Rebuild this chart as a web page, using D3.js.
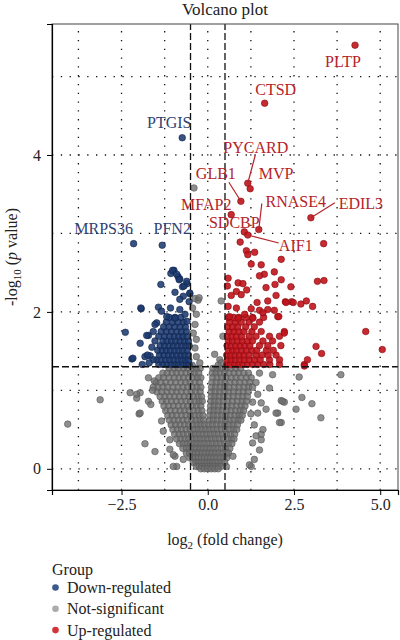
<!DOCTYPE html>
<html><head><meta charset="utf-8">
<script src="https://cdn.jsdelivr.net/npm/d3@7/dist/d3.min.js"></script>
<style>body{margin:0;background:#fff}svg{display:block}text{font-family:"Liberation Serif","DejaVu Serif",serif}</style>
</head><body><svg id="c" width="400" height="640"></svg>
<script>
// ---------------- data ----------------
const xTicks = [-2.5, 0, 2.5, 5];
const xMinor = [-3.75, -1.25, 1.25, 3.75];
const yTicks = [0, 2, 4];
const yMinor = [1, 3, 5];
const fcCut = 0.5;
const pCut = 1.301;
const groups = ["Down-regulated", "Not-significant", "Up-regulated"];

const labeledGenes = [
  {gene:"PLTP",   x:4.27,  y:5.40, g:2},
  {gene:"CTSD",   x:1.65,  y:4.66, g:2},
  {gene:"PTGIS",  x:-0.74, y:4.22, g:0},
  {gene:"PYCARD", x:1.16,  y:3.64, g:2},
  {gene:"MVP",    x:1.23,  y:3.57, g:2},
  {gene:"GLB1",   x:0.96,  y:3.41, g:2},
  {gene:"MFAP2",  x:0.68,  y:3.24, g:2},
  {gene:"RNASE4", x:1.48,  y:3.05, g:2},
  {gene:"EDIL3",  x:2.99,  y:3.20, g:2},
  {gene:"SDCBP",  x:1.06,  y:3.02, g:2},
  {gene:"AIF1",   x:1.16,  y:2.98, g:2},
  {gene:"MRPS36", x:-2.15, y:2.87, g:0},
  {gene:"PFN2",   x:-1.32, y:2.85, g:0}
];

// rows: [ -log10 p, [log2FC values...] ]
const downRows = [
  [1.33, [-1.42,-1.3,-1.18,-1.06,-0.95,-0.84,-0.73,-0.62,-0.54]],
  [1.39, [-1.48,-1.35,-1.22,-1.1,-0.98,-0.86,-0.75,-0.64,-0.55]],
  [1.45, [-1.4,-1.27,-1.14,-1.02,-0.9,-0.78,-0.67,-0.56]],
  [1.51, [-1.45,-1.32,-1.2,-1.08,-0.96,-0.84,-0.72,-0.6]],
  [1.57, [-1.38,-1.25,-1.12,-1.0,-0.88,-0.76,-0.64,-0.54]],
  [1.63, [-1.3,-1.18,-1.05,-0.93,-0.8,-0.68,-0.56]],
  [1.69, [-1.42,-1.25,-1.1,-0.97,-0.84,-0.72,-0.6]],
  [1.75, [-1.35,-1.2,-1.05,-0.9,-0.76,-0.62]],
  [1.81, [-1.28,-1.12,-0.96,-0.8,-0.65]],
  [1.87, [-1.2,-1.02,-0.86,-0.7]],
  [1.93, [-1.12,-0.95,-0.78]]
];
const downExtra = [
  [-1.07,2.49],[-0.98,2.53],[-0.86,2.45],[-0.81,2.42],[-1.36,2.35],[-0.6,2.36],[-0.73,2.32],
  [-0.95,2.25],[-0.71,2.2],[-0.52,2.23],[-0.81,2.16],[-0.54,2.13],[-1.93,2.04],[-1.43,2.06],
  [-1.34,2.01],[-1.08,2.05],[-0.81,2.03],[-0.66,1.97],[-1.19,1.94],[-0.95,1.92],[-1.48,1.86],
  [-0.6,1.88],[-2.39,1.74],[-1.58,1.75],[-1.72,1.7],[-1.96,1.6],[-1.53,1.63],[-2.2,1.4],
  [-1.82,1.43],[-1.67,1.44],[-1.58,1.39],[-1.02,2.53],[-0.9,2.48],[-0.83,2.41],[-0.69,2.33],
  [-0.61,2.39],[-0.52,2.24],[-1.94,2.05],[-1.77,1.7],[-2.17,1.41],[-1.75,1.45],[-1.53,1.84],
  [-1.62,1.55],[-1.7,1.35],[-1.9,1.33]
];

const upRows = [
  [1.33, [0.55,0.66,0.78,0.9,1.02,1.15,1.3,1.45,1.62,1.8,2.08,2.8]],
  [1.39, [0.57,0.68,0.8,0.93,1.06,1.2,1.36,1.52,1.79,2.08]],
  [1.45, [0.55,0.67,0.79,0.92,1.05,1.2,1.4,1.58,1.75,1.98]],
  [1.51, [0.6,0.72,0.84,0.98,1.12,1.28,1.42,1.7,1.9]],
  [1.57, [0.56,0.68,0.81,0.94,1.07,1.22,1.5,1.74,2.12]],
  [1.63, [0.6,0.72,0.86,1.0,1.15,1.3,1.6,1.88]],
  [1.69, [0.57,0.7,0.83,0.98,1.2,1.4,1.79,2.08]],
  [1.75, [0.62,0.76,0.9,1.05,1.28,1.55,2.22]],
  [1.81, [0.58,0.72,0.87,1.1,1.35]],
  [1.87, [0.63,0.8,0.97,1.2,1.5]],
  [1.93, [0.6,0.75,0.9,1.1,1.3,1.62]]
];
const upExtra = [
  [0.94,2.89],[3.36,2.87],[1.12,2.78],[1.36,2.76],[1.16,2.73],[1.26,2.61],[2.13,2.67],[1.55,2.6],
  [1.93,2.51],[1.64,2.48],[1.5,2.46],[2.13,2.41],[1.69,2.31],[1.95,2.35],[2.41,2.32],[0.59,2.43],
  [0.57,2.33],[0.88,2.37],[1.02,2.36],[1.13,2.28],[0.83,2.26],[0.68,2.21],[0.97,2.22],[1.98,2.21],
  [3.18,2.39],[3.37,2.4],[1.43,2.12],[1.74,2.14],[2.25,2.13],[2.43,2.13],[2.7,2.1],[2.86,2.14],
  [3.04,2.07],[0.59,2.07],[0.83,2.05],[1.26,2.04],[1.5,2.02],[1.74,2.03],[1.93,2.02],[1.6,1.99],
  [2.03,1.94],[0.63,1.94],[0.88,1.92],[1.07,1.97],[1.31,1.92],[3.14,1.56],[3.3,1.47],[2.89,1.39],
  [2.8,1.31],[4.58,1.75],[5.06,1.52],[2.22,1.73],[2.27,2.12],[2.48,2.12],[2.06,1.94]
];

const nsRows = [
  [1.28, [-1.12,-0.98,-0.85,-0.7,-0.58,-0.45,-0.33,-0.22,0.15,0.27,0.38,0.52,0.66,0.8,0.95]],
  [1.22, [-1.3,-1.17,-1.03,-0.9,-0.77,-0.63,-0.5,-0.38,-0.26,0.13,0.24,0.36,0.49,0.62,0.77,0.9,1.05,1.18]],
  [1.16, [-1.42,-1.28,-1.12,-0.97,-0.83,-0.7,-0.56,-0.43,-0.3,-0.2,0.14,0.27,0.4,0.53,0.68,0.82,0.96,1.12,1.26]],
  [1.10, [-1.5,-1.36,-1.22,-1.07,-0.93,-0.78,-0.64,-0.51,-0.37,-0.24,0.12,0.25,0.38,0.5,0.64,0.79,0.93,1.08,1.22]],
  [1.04, [-1.58,-1.44,-1.3,-1.16,-1.01,-0.86,-0.72,-0.58,-0.45,-0.31,-0.2,0.11,0.23,0.36,0.49,0.62,0.77,0.91,1.05,1.19,1.3]],
  [0.98, [-1.47,-1.33,-1.18,-1.04,-0.9,-0.76,-0.62,-0.48,-0.35,-0.22,0.1,0.22,0.35,0.48,0.61,0.75,0.89,1.03,1.17]],
  [0.92, [-1.38,-1.24,-1.1,-0.96,-0.82,-0.68,-0.54,-0.41,-0.28,-0.18,0.1,0.21,0.33,0.46,0.6,0.74,0.88,1.02,1.15]],
  [0.86, [-1.32,-1.19,-1.05,-0.91,-0.77,-0.63,-0.5,-0.37,-0.25,-0.16,0.09,0.2,0.32,0.45,0.58,0.72,0.86,1.0,1.12]],
  [0.80, [-1.27,-1.13,-0.99,-0.85,-0.71,-0.58,-0.45,-0.32,-0.2,0.08,0.19,0.31,0.44,0.57,0.7,0.84,0.97,1.08]],
  [0.74, [-1.22,-1.08,-0.94,-0.8,-0.67,-0.54,-0.41,-0.28,-0.17,0.07,0.18,0.3,0.42,0.55,0.68,0.81,0.94,1.04]],
  [0.68, [-1.16,-1.03,-0.9,-0.76,-0.63,-0.5,-0.37,-0.25,-0.14,0.06,0.17,0.29,0.41,0.53,0.66,0.79,0.91,1.0]],
  [0.62, [-1.11,-0.98,-0.85,-0.72,-0.59,-0.46,-0.34,-0.22,-0.12,0.05,0.16,0.28,0.4,0.52,0.64,0.76,0.88,0.96]],
  [0.56, [-1.06,-0.93,-0.8,-0.67,-0.55,-0.43,-0.31,-0.2,-0.09,0.03,0.14,0.26,0.38,0.5,0.62,0.74,0.86]],
  [0.50, [-1.01,-0.88,-0.76,-0.63,-0.51,-0.39,-0.28,-0.17,-0.06,0.05,0.16,0.27,0.39,0.51,0.63,0.75,0.84]],
  [0.44, [-0.96,-0.83,-0.71,-0.59,-0.47,-0.36,-0.25,-0.14,-0.03,0.08,0.19,0.3,0.42,0.54,0.66,0.78]],
  [0.38, [-0.9,-0.78,-0.66,-0.55,-0.44,-0.33,-0.22,-0.11,0.0,0.11,0.22,0.33,0.45,0.57,0.69,0.76]],
  [0.32, [-0.82,-0.71,-0.6,-0.5,-0.39,-0.29,-0.19,-0.08,0.03,0.14,0.25,0.36,0.48,0.6,0.7]],
  [0.26, [-0.72,-0.62,-0.52,-0.42,-0.32,-0.22,-0.12,-0.02,0.08,0.18,0.29,0.4,0.52,0.64]],
  [0.20, [-0.62,-0.53,-0.44,-0.35,-0.26,-0.16,-0.06,0.04,0.13,0.23,0.33,0.44,0.55,0.6]],
  [0.14, [-0.52,-0.44,-0.36,-0.27,-0.18,-0.09,0.0,0.09,0.18,0.27,0.37,0.47,0.55]],
  [0.08, [-0.42,-0.34,-0.26,-0.18,-0.1,-0.02,0.06,0.14,0.22,0.31,0.4,0.49]],
  [0.03, [-0.33,-0.25,-0.17,-0.09,-0.01,0.07,0.15,0.23,0.31,0.39]],
  [0.00, [-0.2,-0.1,0.0,0.1,0.2,0.3]]
];
const nsExtra = [
  [-0.4,3.58],[-0.28,2.15],[-0.37,2.17],[-0.33,1.97],[-0.37,1.84],[-0.42,1.73],[-0.33,1.65],
  [-0.37,1.54],[-0.33,1.43],[-0.23,1.35],[-0.25,2.18],[0.39,2.14],[0.44,1.69],[0.2,1.46],
  [0.35,1.39],[0.39,1.35],[-0.44,2.05],[-0.45,1.32],[0.3,1.32],
  [-3.12,0.88],[-4.06,0.57],[3.86,1.2],[3.28,0.65],[3.02,0.83],[2.73,0.91],[2.65,1.17],
  [2.13,0.87],[2.22,0.85],[2.03,0.71],[2.13,0.59],[2.56,0.76],[1.79,1.03],[1.88,1.2],[1.5,1.22],
  [1.69,0.76],[1.55,0.44],[1.5,0.24],[1.26,0.03],[-1.82,0.32],[-1.53,0.22],[-1.99,0.7],
  [-2.25,0.97],[-1.96,0.97],[-1.72,1.16],[-2.06,0.9],[-0.9,0.03],[-0.95,0.16],[-1.1,0.25],
  [2.17,0.86],[1.98,0.71],[2.08,0.59],[1.55,0.84],[1.45,0.71],[1.35,0.56],[1.6,0.5],[1.4,0.42],
  [1.55,0.37],[1.3,0.33],[1.35,0.12],[1.21,0.05],[0.73,0.16],[0.54,0.03],[-2.06,0.95],
  [-1.96,0.71],[-1.72,0.86],[-1.65,0.82],[-1.34,0.61],[-1.29,0.48],[-1.1,0.37],[-1.0,0.18],
  [-1.0,0.03],[-0.71,0.12],[-1.6,1.0],[-1.55,1.12],[1.4,1.1],[1.45,0.95],[1.3,0.85],[1.25,0.7]
];

// ---------------- layout ----------------
const W = 400, H = 640;
const M = {l:52, r:2, t:24, b:150};
const colors = ["#1d3a70", "#6e6e6e", "#c0141c"];
const strokes = ["#0e2148", "#555555", "#880a10"];
const opac = [0.88, 0.78, 0.9];
const legendColors = ["#3d5a8c", "#ababab", "#d1343a"];
const labelColors = ["#2d4373", "#888", "#b52229"];
// label offsets (px) from point: text centre, and segment end if any
const labelLayout = {
  PLTP:{dx:-12,dy:16}, CTSD:{dx:11,dy:-14}, PTGIS:{dx:-13,dy:-15},
  PYCARD:{dx:8,dy:-36, seg:[7.5,-28]}, MVP:{dx:26,dy:-15},
  GLB1:{dx:-25,dy:-28, seg:[-12,-19]}, MFAP2:{dx:-25,dy:-10},
  RNASE4:{dx:37,dy:-28, seg:[3,-26]}, EDIL3:{dx:50,dy:-14, seg:[24,-15]},
  SDCBP:{dx:-10,dy:-9}, AIF1:{dx:48,dy:10, seg:[31,8]},
  MRPS36:{dx:-30,dy:-15}, PFN2:{dx:10,dy:-17}
};

function expand(rows, extra, g){
  const out = [];
  rows.forEach(([yv, xs]) => xs.forEach(xv => out.push({x:xv, y:yv, g})));
  extra.forEach(([xv, yv]) => out.push({x:xv, y:yv, g}));
  return out;
}
const nsPts = expand(nsRows, nsExtra, 1);
const downPts = expand(downRows, downExtra, 0);
const upPts = expand(upRows, upExtra, 2);
const allPts = nsPts.concat(downPts, upPts, labeledGenes);

const xe = d3.extent(allPts, d => d.x), ye = d3.extent(allPts, d => d.y);
const xpad = (xe[1]-xe[0])*0.05, ypad = (ye[1]-ye[0])*0.05;
const x = d3.scaleLinear().domain([xe[0]-xpad, xe[1]+xpad]).range([M.l, W-M.r]);
const y = d3.scaleLinear().domain([ye[0]-ypad, ye[1]+ypad]).range([H-M.b, M.t]);

const svg = d3.select("#c");
const x0 = M.l, x1 = W-M.r, y0 = H-M.b, y1 = M.t;

// grid
const grid = svg.append("g").attr("stroke","#111").attr("stroke-width",1.3).attr("stroke-dasharray","1.3,7.5");
xTicks.concat(xMinor).forEach(v => grid.append("line").attr("x1",x(v)).attr("x2",x(v)).attr("y1",y0).attr("y2",y1));
yTicks.concat(yMinor).forEach(v => grid.append("line").attr("y1",y(v)).attr("y2",y(v)).attr("x1",x0).attr("x2",x1));

// points
const ptsG = svg.append("g");
ptsG.selectAll("circle").data(allPts).join("circle")
  .attr("cx", d => x(d.x)).attr("cy", d => y(d.y)).attr("r", 3.3)
  .attr("fill", d => colors[d.g]).attr("fill-opacity", d => opac[d.g])
  .attr("stroke", d => strokes[d.g]).attr("stroke-opacity", 0.75).attr("stroke-width", 0.8);

// threshold lines
const th = svg.append("g").attr("stroke","#111").attr("stroke-width",1.3).attr("stroke-dasharray","7,3");
[-fcCut, fcCut].forEach(v => th.append("line").attr("x1",x(v)).attr("x2",x(v)).attr("y1",y0).attr("y2",y1));
th.append("line").attr("x1",x0).attr("x2",x1).attr("y1",y(pCut)).attr("y2",y(pCut));

// labels
const lab = svg.append("g");
labeledGenes.forEach(d => {
  const L = labelLayout[d.gene], px = x(d.x), py = y(d.y);
  if (L.seg) lab.append("line").attr("x1",px).attr("y1",py).attr("x2",px+L.seg[0]).attr("y2",py+L.seg[1])
      .attr("stroke", labelColors[d.g]).attr("stroke-width",1.2);
  lab.append("text").attr("x",px+L.dx).attr("y",py+L.dy).attr("dy","0.35em").attr("text-anchor","middle")
    .attr("font-size",16).attr("fill",labelColors[d.g]).text(d.gene);
});

// frame
svg.append("rect").attr("x",x0).attr("y",y1).attr("width",x1-x0).attr("height",y0-y1)
  .attr("fill","none").attr("stroke","#444").attr("stroke-width",1);

// axes
const xAxis = svg.append("g").attr("transform",`translate(0,${y0})`)
  .call(d3.axisBottom(x).tickValues(xTicks).tickFormat(d3.format(".1f")).tickSizeOuter(0).tickSize(5).tickPadding(4));
const yAxis = svg.append("g").attr("transform",`translate(${x0},0)`)
  .call(d3.axisLeft(y).tickValues(yTicks).tickFormat(d3.format("d")).tickSizeOuter(0).tickSize(5).tickPadding(6));
[xAxis, yAxis].forEach(a => {
  a.select(".domain").attr("stroke","#000").attr("stroke-width",1.2);
  a.selectAll(".tick line").attr("stroke","#000").attr("stroke-width",1);
  a.selectAll(".tick text").attr("font-family","Liberation Serif, serif").attr("font-size",16).attr("fill","#222");
});
xAxis.selectAll(".tick text").text(d => d3.format(".1f")(d).replace("-", "\u2212"));

// titles
svg.append("text").attr("x",(x0+x1)/2).attr("y",15).attr("text-anchor","middle").attr("font-size",17).attr("fill","#222").text("Volcano plot");
const xt = svg.append("text").attr("x",(x0+x1)/2).attr("y",545).attr("text-anchor","middle").attr("font-size",16).attr("fill","#222");
xt.append("tspan").text("log");
xt.append("tspan").attr("font-size",11).attr("dy",4).text("2");
xt.append("tspan").attr("dy",-4).text(" (fold change)");
const yt = svg.append("text").attr("transform",`translate(17,${(y0+y1)/2}) rotate(-90)`).attr("text-anchor","middle").attr("font-size",16).attr("fill","#222");
yt.append("tspan").text("-log");
yt.append("tspan").attr("font-size",11).attr("dy",4).text("10");
yt.append("tspan").attr("dy",-4).text(" (");
yt.append("tspan").attr("font-style","italic").text("p");
yt.append("tspan").text(" value)");

// legend
const lg = svg.append("g");
lg.append("text").attr("x",52).attr("y",575).attr("font-size",16).attr("fill","#222").text("Group");
groups.forEach((gname, i) => {
  const cy = 587.5 + i*21.3;
  lg.append("circle").attr("cx",55.5).attr("cy",cy).attr("r",3.3).attr("fill",legendColors[i]);
  lg.append("text").attr("x",67).attr("y",cy).attr("dy","0.35em").attr("font-size",16).attr("fill","#222").text(gname);
});
</script></body></html>
